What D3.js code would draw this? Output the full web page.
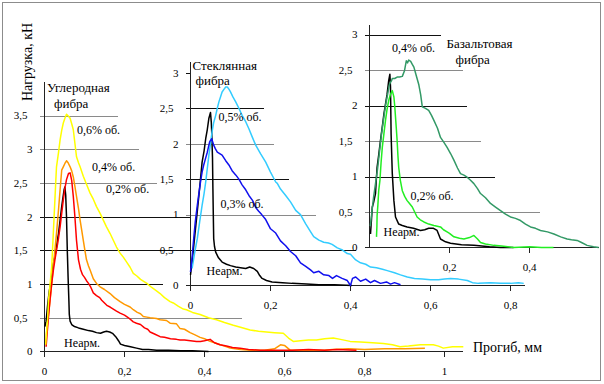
<!DOCTYPE html>
<html>
<head>
<meta charset="utf-8">
<script src="https://cdn.jsdelivr.net/npm/d3@7"></script>
<style>
  html, body { margin: 0; padding: 0; background: #fff; }
  svg { display: block; }
</style>
</head>
<body>
<script>
// deflection (mm) / load (kN)

// carbon fibre panel
var carbonPlain = [[0.001,0.37],[0.004,0.45],[0.008,0.7],[0.012,0.9],[0.014,0.96],[0.018,1.1],[0.022,1.3],[0.026,1.41],[0.03,1.55],[0.033,1.68],[0.035,1.75],[0.039,1.95],[0.043,2.15],[0.046,2.28],[0.049,2.4],[0.051,2.44],[0.053,2.32],[0.055,2.0],[0.057,1.5],[0.059,1.1],[0.061,0.75],[0.062,0.55],[0.064,0.45],[0.068,0.4],[0.075,0.37],[0.085,0.35],[0.097,0.33],[0.11,0.31],[0.12,0.3],[0.13,0.28],[0.14,0.27],[0.148,0.29],[0.155,0.3],[0.163,0.29],[0.17,0.27],[0.178,0.22],[0.185,0.16],[0.19,0.11],[0.2,0.09],[0.215,0.07],[0.23,0.05],[0.245,0.03],[0.26,0.03],[0.28,0.02],[0.31,0.02],[0.34,0.01],[0.37,0.01],[0.41,0.0]];
var carbon02 = [[0.004,0.07],[0.007,0.3],[0.01,0.52],[0.014,0.78],[0.018,1.01],[0.022,1.2],[0.026,1.36],[0.03,1.5],[0.035,1.68],[0.039,1.85],[0.043,2.05],[0.047,2.25],[0.051,2.42],[0.055,2.55],[0.06,2.64],[0.064,2.65],[0.068,2.54],[0.072,2.3],[0.076,2.0],[0.08,1.65],[0.085,1.36],[0.09,1.22],[0.095,1.14],[0.1,1.1],[0.105,1.05],[0.11,1.01],[0.116,0.95],[0.122,0.87],[0.13,0.83],[0.138,0.8],[0.143,0.76],[0.15,0.72],[0.157,0.68],[0.164,0.66],[0.172,0.63],[0.18,0.6],[0.189,0.57],[0.2,0.54],[0.21,0.5],[0.222,0.44],[0.23,0.42],[0.24,0.4],[0.25,0.35],[0.258,0.33],[0.264,0.29],[0.275,0.26],[0.289,0.22],[0.3,0.21],[0.315,0.19],[0.33,0.18],[0.339,0.17],[0.35,0.17],[0.365,0.16],[0.38,0.15],[0.39,0.15],[0.4,0.16],[0.414,0.18],[0.425,0.13],[0.439,0.1],[0.455,0.08],[0.47,0.06],[0.489,0.05],[0.51,0.03],[0.539,0.02],[0.58,0.02],[0.62,0.02],[0.66,0.03],[0.7,0.02],[0.73,0.03],[0.78,0.02]];
var carbon04 = [[0.003,0.1],[0.005,0.27],[0.01,0.55],[0.014,0.76],[0.018,1.0],[0.022,1.26],[0.026,1.5],[0.03,1.75],[0.035,2.1],[0.039,2.4],[0.043,2.69],[0.047,2.74],[0.051,2.79],[0.055,2.83],[0.059,2.8],[0.064,2.74],[0.068,2.68],[0.072,2.59],[0.076,2.45],[0.08,2.3],[0.085,2.12],[0.089,1.95],[0.093,1.8],[0.097,1.65],[0.101,1.5],[0.105,1.36],[0.11,1.27],[0.114,1.21],[0.122,1.08],[0.13,1.01],[0.139,0.96],[0.15,0.92],[0.164,0.86],[0.175,0.8],[0.189,0.74],[0.2,0.7],[0.214,0.66],[0.222,0.62],[0.232,0.58],[0.24,0.56],[0.247,0.52],[0.256,0.51],[0.264,0.5],[0.28,0.49],[0.289,0.47],[0.305,0.46],[0.314,0.42],[0.33,0.41],[0.339,0.34],[0.35,0.33],[0.364,0.28],[0.375,0.25],[0.389,0.21],[0.4,0.19],[0.414,0.15],[0.425,0.13],[0.439,0.1],[0.45,0.08],[0.464,0.05],[0.49,0.03],[0.514,0.02],[0.55,0.02],[0.575,0.04],[0.59,0.1],[0.6,0.09],[0.614,0.02],[0.65,0.02],[0.7,0.02],[0.72,0.03],[0.76,0.04],[0.8,0.03],[0.85,0.04],[0.9,0.04],[0.951,0.05]];
var carbon06 = [[0.003,0.1],[0.005,0.27],[0.008,0.5],[0.01,0.76],[0.014,1.0],[0.018,1.26],[0.02,1.5],[0.022,1.75],[0.024,2.0],[0.026,2.25],[0.028,2.5],[0.03,2.74],[0.035,2.95],[0.039,3.14],[0.043,3.28],[0.047,3.39],[0.051,3.46],[0.055,3.52],[0.06,3.49],[0.064,3.46],[0.068,3.38],[0.072,3.29],[0.076,3.09],[0.08,2.89],[0.085,2.8],[0.089,2.74],[0.097,2.6],[0.105,2.48],[0.114,2.35],[0.122,2.26],[0.13,2.15],[0.139,2.05],[0.147,1.95],[0.155,1.85],[0.164,1.75],[0.172,1.65],[0.18,1.55],[0.189,1.46],[0.197,1.4],[0.205,1.33],[0.214,1.25],[0.222,1.16],[0.231,1.12],[0.24,1.07],[0.256,1.01],[0.268,0.95],[0.28,0.9],[0.289,0.86],[0.3,0.8],[0.314,0.74],[0.322,0.72],[0.335,0.67],[0.347,0.63],[0.355,0.62],[0.37,0.58],[0.389,0.55],[0.41,0.5],[0.43,0.47],[0.45,0.43],[0.472,0.39],[0.49,0.36],[0.514,0.32],[0.535,0.3],[0.555,0.29],[0.575,0.28],[0.597,0.27],[0.61,0.2],[0.622,0.15],[0.64,0.16],[0.66,0.17],[0.68,0.17],[0.7,0.19],[0.722,0.2],[0.74,0.18],[0.764,0.15],[0.79,0.14],[0.82,0.13],[0.847,0.12],[0.87,0.1],[0.889,0.07],[0.91,0.08],[0.94,0.1],[0.972,0.1],[0.985,0.08],[0.997,0.05],[1.02,0.07],[1.047,0.07]];

// glass fibre panel
var glassPlain = [[0.0,0.15],[0.004,0.33],[0.008,0.55],[0.0125,0.8],[0.017,1.05],[0.021,1.27],[0.025,1.5],[0.029,1.74],[0.034,1.9],[0.038,2.07],[0.042,2.2],[0.046,2.36],[0.05,2.44],[0.052,2.3],[0.053,2.17],[0.055,1.8],[0.056,1.37],[0.057,1.0],[0.058,0.66],[0.06,0.55],[0.063,0.47],[0.07,0.39],[0.079,0.33],[0.09,0.3],[0.1,0.28],[0.113,0.26],[0.125,0.25],[0.138,0.24],[0.148,0.26],[0.158,0.24],[0.167,0.2],[0.173,0.14],[0.179,0.1],[0.19,0.07],[0.204,0.05],[0.23,0.04],[0.254,0.03],[0.29,0.02],[0.321,0.01],[0.36,0.01],[0.404,0.0]];
var glass03 = [[0.0,0.19],[0.004,0.4],[0.008,0.66],[0.012,0.9],[0.017,1.13],[0.021,1.3],[0.025,1.46],[0.029,1.6],[0.033,1.7],[0.038,1.8],[0.042,1.88],[0.048,2.03],[0.053,2.07],[0.058,1.98],[0.062,1.93],[0.067,1.88],[0.073,1.86],[0.079,1.84],[0.088,1.76],[0.096,1.7],[0.104,1.62],[0.113,1.56],[0.121,1.5],[0.129,1.42],[0.138,1.35],[0.146,1.27],[0.155,1.2],[0.163,1.1],[0.17,1.05],[0.178,1.0],[0.188,0.93],[0.2,0.8],[0.213,0.74],[0.225,0.63],[0.238,0.56],[0.25,0.48],[0.263,0.42],[0.275,0.32],[0.288,0.27],[0.3,0.22],[0.308,0.18],[0.321,0.2],[0.333,0.15],[0.346,0.14],[0.355,0.1],[0.365,0.14],[0.379,0.1],[0.392,0.07],[0.4,0.0],[0.405,0.1],[0.413,0.12],[0.425,0.06],[0.438,0.09],[0.45,0.04],[0.46,0.07],[0.475,0.03],[0.49,0.05],[0.5,0.02],[0.51,0.04],[0.525,0.01]];
var glass05 = [[0.004,0.24],[0.01,0.45],[0.017,0.66],[0.023,0.9],[0.029,1.13],[0.034,1.3],[0.038,1.46],[0.042,1.65],[0.046,1.84],[0.05,2.0],[0.054,2.17],[0.058,2.3],[0.063,2.4],[0.067,2.5],[0.071,2.59],[0.075,2.66],[0.079,2.73],[0.084,2.77],[0.088,2.8],[0.092,2.8],[0.096,2.77],[0.1,2.73],[0.106,2.66],[0.113,2.59],[0.121,2.5],[0.129,2.4],[0.138,2.31],[0.146,2.21],[0.154,2.1],[0.163,1.98],[0.175,1.86],[0.188,1.74],[0.2,1.6],[0.213,1.46],[0.217,1.44],[0.225,1.36],[0.238,1.27],[0.25,1.18],[0.263,1.06],[0.275,1.0],[0.288,0.87],[0.3,0.76],[0.308,0.69],[0.321,0.64],[0.333,0.61],[0.345,0.6],[0.354,0.58],[0.367,0.53],[0.38,0.5],[0.392,0.45],[0.4,0.44],[0.413,0.36],[0.425,0.32],[0.438,0.3],[0.45,0.26],[0.465,0.25],[0.48,0.23],[0.492,0.21],[0.51,0.18],[0.525,0.15],[0.542,0.12],[0.56,0.1],[0.58,0.09],[0.6,0.08],[0.62,0.08],[0.635,0.09],[0.65,0.1],[0.67,0.09],[0.692,0.07],[0.705,0.04],[0.72,0.03],[0.75,0.04],[0.775,0.03],[0.8,0.03],[0.82,0.04],[0.833,0.03]];

// basalt fibre panel
var basaltPlain = [[0.0025,0.19],[0.005,0.4],[0.007,0.57],[0.01,0.63],[0.015,0.76],[0.017,0.95],[0.019,1.13],[0.023,1.3],[0.0275,1.51],[0.032,1.7],[0.036,1.88],[0.04,2.02],[0.044,2.16],[0.048,2.35],[0.051,2.44],[0.0525,2.26],[0.054,1.6],[0.057,1.04],[0.061,0.66],[0.065,0.43],[0.073,0.33],[0.082,0.31],[0.094,0.29],[0.11,0.27],[0.1275,0.24],[0.138,0.25],[0.148,0.27],[0.16,0.27],[0.169,0.24],[0.1775,0.12],[0.19,0.08],[0.2025,0.06],[0.23,0.04],[0.261,0.03],[0.3,0.01],[0.3275,0.0],[0.36,0.0]];
var basalt02 = [[0.0175,0.15],[0.0185,0.3],[0.019,0.45],[0.021,0.6],[0.023,0.8],[0.026,0.94],[0.029,1.2],[0.032,1.41],[0.036,1.6],[0.04,1.79],[0.044,1.95],[0.048,2.07],[0.052,2.15],[0.057,2.21],[0.061,2.12],[0.063,2.0],[0.065,1.84],[0.067,1.68],[0.069,1.51],[0.071,1.3],[0.073,1.13],[0.077,0.95],[0.082,0.8],[0.088,0.72],[0.094,0.66],[0.1,0.62],[0.107,0.57],[0.113,0.5],[0.119,0.43],[0.127,0.39],[0.136,0.36],[0.148,0.33],[0.161,0.31],[0.1775,0.29],[0.185,0.25],[0.194,0.22],[0.2,0.2],[0.211,0.15],[0.225,0.13],[0.236,0.12],[0.25,0.14],[0.261,0.17],[0.27,0.12],[0.2775,0.07],[0.29,0.05],[0.311,0.03],[0.33,0.02],[0.36,0.0],[0.4,0.01],[0.43,0.0],[0.46,0.0]];
var basalt04 = [[0.002,0.3],[0.006,0.5],[0.01,0.7],[0.015,0.9],[0.02,1.1],[0.025,1.35],[0.03,1.6],[0.035,1.8],[0.04,2.0],[0.045,2.15],[0.05,2.3],[0.055,2.35],[0.057,2.38],[0.063,2.38],[0.069,2.4],[0.075,2.4],[0.082,2.41],[0.0875,2.49],[0.092,2.63],[0.095,2.6],[0.098,2.64],[0.103,2.62],[0.107,2.58],[0.111,2.54],[0.117,2.42],[0.123,2.3],[0.128,2.15],[0.132,1.98],[0.14,1.96],[0.148,1.93],[0.155,1.86],[0.161,1.79],[0.17,1.68],[0.1775,1.55],[0.186,1.48],[0.194,1.41],[0.203,1.32],[0.211,1.23],[0.22,1.12],[0.2275,1.04],[0.236,1.02],[0.244,0.99],[0.252,0.95],[0.261,0.9],[0.27,0.83],[0.2775,0.76],[0.29,0.7],[0.3025,0.62],[0.315,0.57],[0.3275,0.52],[0.34,0.47],[0.3525,0.43],[0.365,0.41],[0.3775,0.38],[0.39,0.33],[0.4025,0.29],[0.415,0.27],[0.4275,0.24],[0.445,0.22],[0.461,0.19],[0.478,0.15],[0.494,0.12],[0.505,0.11],[0.519,0.1],[0.53,0.07],[0.544,0.03],[0.56,0.01],[0.573,0.0]];

// ticks
var carbonYTicks = [0, 0.5, 1, 1.5, 2, 2.5, 3, 3.5];
var carbonXTicks = [0, 0.2, 0.4, 0.6, 0.8, 1];
var glassYTicks = [0, 0.5, 1, 1.5, 2, 2.5, 3];
var glassXTicks = [0, 0.2, 0.4, 0.6, 0.8];
var basaltYTicks = [0, 0.5, 1, 1.5, 2, 2.5, 3];
var basaltXTicks = [0.2, 0.4];

// how far each horizontal grid line runs (in mm), same order as the y ticks
var carbonGridEnd = [0, 0.493, 0.296, 0.364, 0.364, 0.281, 0.236, 0.184];
var glassGridEnd = [0, 0.414, 0.3125, 0.245, 0.2075, 0.1825, 0];
var basaltGridEnd = [0, 0.425, 0.3125, 0.2775, 0.2425, 0.234, 0.1775];

var width = 604;
var height = 384;
var fmt = function (d) { return String(d).replace('.', ','); };

// pick the first Times-like face that is really installed
function pickFont() {
  var ctx = document.createElement('canvas').getContext('2d');
  var probe = 'Углеродная фибра 0,5 mmWW';
  var names = ['Liberation Serif', 'Times New Roman', 'Tinos', 'DejaVu Serif', 'Noto Serif', 'FreeSerif', 'Nimbus Roman'];
  function w(f) { ctx.font = '20px ' + f; return ctx.measureText(probe).width; }
  var mono = w('monospace'), sans = w('sans-serif');
  for (var i = 0; i < names.length; i++) {
    var q = '"' + names[i] + '"';
    if (w(q + ', monospace') !== mono && w(q + ', sans-serif') !== sans) return q;
  }
  return '"Liberation Sans"';
}
var font = pickFont();

var svg = d3.select('body').append('svg')
  .attr('width', width)
  .attr('height', height)
  .style('font-family', font + ', serif');

// outer frame
svg.append('rect')
  .attr('x', 2.5).attr('y', 2.5)
  .attr('width', 598).attr('height', 378)
  .attr('fill', '#fff')
  .attr('stroke', '#8c8c8c');

function drawPanel(p) {
  var x = d3.scaleLinear().domain([0, p.xMax]).range([p.x0, p.x0 + 400 * p.xMax]);
  var y = d3.scaleLinear().domain([0, p.yMax]).range([p.y0, p.y0 - p.ky * p.yMax]);
  var g = svg.append('g');

  // grid lines (also act as the y ticks)
  g.selectAll('line.grid')
    .data(p.yTicks.slice(1))
    .enter().append('line')
    .attr('class', 'grid')
    .attr('x1', p.x0 - 5)
    .attr('x2', function (d, i) { return x(p.gridEnd[i + 1]); })
    .attr('y1', function (d) { return Math.round(y(d)) + 0.5; })
    .attr('y2', function (d) { return Math.round(y(d)) + 0.5; })
    .attr('stroke', function (d, i) { return p.gridColor[i]; })
    .attr('stroke-width', 1.2)
    .attr('shape-rendering', 'crispEdges');

  // axes
  g.append('line')
    .attr('x1', p.x0).attr('x2', p.x0)
    .attr('y1', y(0)).attr('y2', y(p.yMax))
    .attr('stroke', '#222').attr('shape-rendering', 'crispEdges');
  g.append('line')
    .attr('x1', p.x0 - 5).attr('x2', x(p.xMax))
    .attr('y1', y(0)).attr('y2', y(0))
    .attr('stroke', '#222').attr('shape-rendering', 'crispEdges');

  g.selectAll('line.xt')
    .data(p.xTicks)
    .enter().append('line')
    .attr('class', 'xt')
    .attr('x1', function (d) { return x(d); })
    .attr('x2', function (d) { return x(d); })
    .attr('y1', y(0)).attr('y2', y(0) + 5)
    .attr('stroke', '#222').attr('shape-rendering', 'crispEdges');

  // tick labels
  g.selectAll('text.yl')
    .data(p.yTicks)
    .enter().append('text')
    .attr('class', 'yl')
    .attr('x', function (d) { return p.x0 - (Number.isInteger(d) ? 12 : 17); })
    .attr('y', function (d) { return y(d) + 3.8; })
    .attr('text-anchor', 'end')
    .attr('font-size', 11)
    .text(fmt);

  g.selectAll('text.xl')
    .data(p.xTicks)
    .enter().append('text')
    .attr('class', 'xl')
    .attr('x', function (d) { return x(d); })
    .attr('y', y(0) + 23)
    .attr('text-anchor', 'middle')
    .attr('font-size', 11)
    .text(fmt);

  // curves
  var line = d3.line()
    .x(function (d) { return x(d[0]); })
    .y(function (d) { return y(d[1]); });

  p.series.forEach(function (s) {
    g.append('path')
      .datum(s.values)
      .attr('d', line)
      .attr('fill', 'none')
      .attr('stroke', s.color)
      .attr('stroke-width', 1.5)
      .attr('stroke-linejoin', 'round');
  });

  // annotations
  p.notes.forEach(function (n) {
    g.append('text')
      .attr('x', x(n[1]))
      .attr('y', y(n[2]))
      .attr('font-size', n[3])
      .text(n[0]);
  });
}

var gray = '#8a8a8a';

drawPanel({
  x0: 44.5, y0: 351.5, ky: 67.4, xMax: 1.046, yMax: 4.0,
  yTicks: carbonYTicks, xTicks: carbonXTicks, gridEnd: carbonGridEnd,
  gridColor: [gray, '#111', '#111', '#111', gray, gray, gray],
  series: [
    { values: carbonPlain, color: '#000' },
    { values: carbon04, color: '#ff9900' },
    { values: carbon02, color: '#ff0000' },
    { values: carbon06, color: '#ffff00' }
  ],
  notes: [
    ['Углеродная', 0.006, 3.85, 13],
    ['фибра', 0.024, 3.62, 13],
    ['0,6% об.', 0.081, 3.227, 12],
    ['0,4% об.', 0.119, 2.678, 12],
    ['0,2% об.', 0.154, 2.352, 12],
    ['Неарм.', 0.049, 0.06, 12],
    ['Прогиб, мм', 1.071, -0.007, 14]
  ]
});

drawPanel({
  x0: 190.5, y0: 285.5, ky: 70.9, xMax: 0.835, yMax: 3.15,
  yTicks: glassYTicks, xTicks: glassXTicks, gridEnd: glassGridEnd,
  gridColor: ['#111', gray, '#111', gray, '#111', '#111'],
  series: [
    { values: glassPlain, color: '#000' },
    { values: glass05, color: '#33ccff' },
    { values: glass03, color: '#1010ee' }
  ],
  notes: [
    ['Стеклянная', 0.005, 3.037, 13],
    ['фибра', 0.0125, 2.83, 13],
    ['0,5% об.', 0.07, 2.317, 12],
    ['0,3% об.', 0.075, 1.09, 12],
    ['Неарм.', 0.04, 0.145, 12]
  ]
});

drawPanel({
  x0: 369.5, y0: 247.5, ky: 71, xMax: 0.5725, yMax: 3.13,
  yTicks: basaltYTicks, xTicks: basaltXTicks, gridEnd: basaltGridEnd,
  gridColor: [gray, '#111', gray, '#111', gray, '#111'],
  series: [
    { values: basaltPlain, color: '#000' },
    { values: basalt04, color: '#339966' },
    { values: basalt02, color: '#22ee22' }
  ],
  notes: [
    ['0,4% об.', 0.056, 2.76, 12],
    ['Базальтовая', 0.1925, 2.803, 13],
    ['фибра', 0.215, 2.58, 13],
    ['0,2% об.', 0.1025, 0.676, 12],
    ['Неарм.', 0.035, 0.155, 12]
  ]
});

// y axis title
svg.append('text')
  .attr('transform', 'translate(32,62) rotate(-90)')
  .attr('text-anchor', 'middle')
  .attr('font-size', 14)
  .text('Нагрузка, кН');
</script>
</body>
</html>
